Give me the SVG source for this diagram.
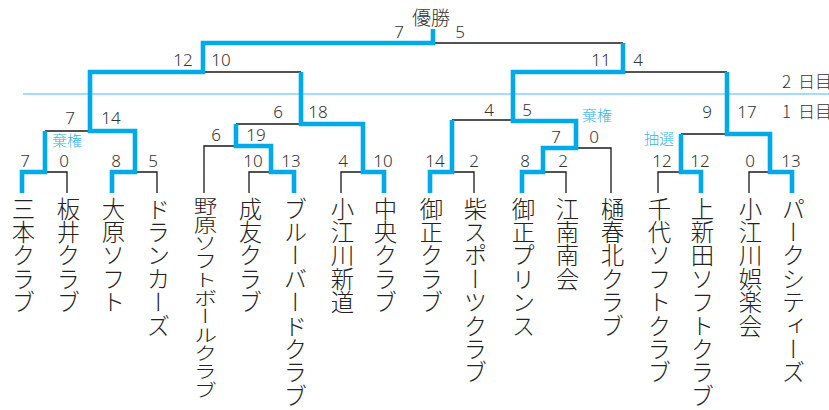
<svg xmlns="http://www.w3.org/2000/svg" width="829" height="410" viewBox="0 0 829 410">
<style>
.k{fill:none;stroke:#1a1a1a;stroke-width:1.3}
.b{fill:none;stroke:#00a9e8;stroke-width:4.6;stroke-linejoin:miter;stroke-linecap:butt}
.n{font-family:"Noto Sans","Liberation Sans",sans-serif;font-weight:300;font-size:17px;fill:#333;text-anchor:middle}
.t{font-family:"Noto Sans CJK JP","Noto Sans CJK SC",sans-serif;font-weight:300;font-size:23.4px;fill:#222;writing-mode:vertical-rl;text-orientation:mixed}
.s{font-family:"Noto Sans CJK JP","Noto Sans CJK SC",sans-serif;font-weight:300;font-size:15px;fill:#3bb2e6;text-anchor:middle}
.d{font-family:"Noto Sans CJK JP","Noto Sans CJK SC",sans-serif;font-weight:300;font-size:17px;fill:#333}
</style>
<rect width="829" height="410" fill="#fff"/>
<line x1="23" y1="94" x2="829" y2="94" stroke="#a8dcf5" stroke-width="2.2"/>
<text class="d" x="782" y="88">2<tspan x="798">日目</tspan></text>
<text class="d" x="782" y="118">1<tspan x="798">日目</tspan></text>
<g id="connectors">
<path class="k" d="M46,172H67V193M135,172H157V193M45,131H90M204,193V146H236M271,172H249V193M363,172H341V193M236,124H301M203,72H301"/>
<path class="k" d="M434,43H623M452,120H513M452,172H474V193M543,172H566V193M576,148H611V193M623,72H727M681,134H727M680,172H658V193M770,172H749V193"/>
<path class="b" d="M22,193V172H45V131"/>
<path class="b" d="M112,193V172H135V131H90V72H203V43H433V29"/>
<path class="b" d="M294,193V172H271V146H236V124"/>
<path class="b" d="M384,193V172H363V124H301V72"/>
<path class="b" d="M430,193V172H452V120"/>
<path class="b" d="M522,193V172H543V148H576V121H513V72H623V43"/>
<path class="b" d="M701,193V172H681V134"/>
<path class="b" d="M792,193V172H770V134H727V72"/>
</g>
<g id="champion"><text x="431" y="25" class="d" style="font-size:19px;text-anchor:middle">優勝</text></g>
<g id="scores">
<text class="n" x="399" y="38">7</text><text class="n" x="460" y="38">5</text>
<text class="n" x="183" y="66">12</text><text class="n" x="221" y="66">10</text>
<text class="n" x="601" y="66">11</text><text class="n" x="638" y="66">4</text>
<text class="n" x="70" y="124">7</text><text class="n" x="111" y="124">14</text>
<text class="n" x="278" y="118">6</text><text class="n" x="318" y="118">18</text>
<text class="n" x="216" y="141">6</text><text class="n" x="256" y="141">19</text>
<text class="n" x="489" y="116">4</text><text class="n" x="527" y="116">5</text>
<text class="n" x="556" y="143">7</text><text class="n" x="594" y="143">0</text>
<text class="n" x="707" y="118">9</text><text class="n" x="747" y="118">17</text>
<text class="n" x="25" y="167">7</text><text class="n" x="64" y="167">0</text>
<text class="n" x="116" y="167">8</text><text class="n" x="153" y="167">5</text>
<text class="n" x="253" y="167">10</text><text class="n" x="291" y="167">13</text>
<text class="n" x="343" y="167">4</text><text class="n" x="383" y="167">10</text>
<text class="n" x="435" y="167">14</text><text class="n" x="474" y="167">2</text>
<text class="n" x="525" y="167">8</text><text class="n" x="563" y="167">2</text>
<text class="n" x="662" y="167">12</text><text class="n" x="700" y="167">12</text>
<text class="n" x="750" y="167">0</text><text class="n" x="791" y="167">13</text>
<text class="s" x="67" y="146">棄権</text>
<text class="s" x="597" y="121">棄権</text>
<text class="s" x="659" y="144">抽選</text>
</g>
<g id="team-sanbon"><text class="t" x="23.5" y="197">三本クラブ</text></g>
<g id="team-itai"><text class="t" x="68.5" y="197">板井クラブ</text></g>
<g id="team-ohara"><text class="t" x="113.5" y="197">大原ソフト</text></g>
<g id="team-drunkers"><text class="t" x="158.5" y="197">ドランカーズ</text></g>
<g id="team-nohara" transform="translate(205.5,197) scale(1,0.785)"><text class="t" x="0" y="0">野原ソフトボールクラブ</text></g>
<g id="team-seiyu"><text class="t" x="250.5" y="197">成友クラブ</text></g>
<g id="team-bluebird"><text class="t" x="295.5" y="197">ブルーバードクラブ</text></g>
<g id="team-oegawa-shindo"><text class="t" x="342.5" y="197">小江川新道</text></g>
<g id="team-chuo"><text class="t" x="385.5" y="197">中央クラブ</text></g>
<g id="team-misho"><text class="t" x="431.5" y="197">御正クラブ</text></g>
<g id="team-shiba"><text class="t" x="475.5" y="197">柴スポーツクラブ</text></g>
<g id="team-misho-prince"><text class="t" x="523.5" y="197">御正プリンス</text></g>
<g id="team-konan"><text class="t" x="567.5" y="197">江南南会</text></g>
<g id="team-hishun"><text class="t" x="612.5" y="197">樋春北クラブ</text></g>
<g id="team-chiyo"><text class="t" x="659.5" y="197">千代ソフトクラブ</text></g>
<g id="team-kamishinden"><text class="t" x="702.5" y="197">上新田ソフトクラブ</text></g>
<g id="team-oegawa-goraku"><text class="t" x="750.5" y="197">小江川娯楽会</text></g>
<g id="team-park"><text class="t" x="793.5" y="197">パークシティーズ</text></g>
</svg>
